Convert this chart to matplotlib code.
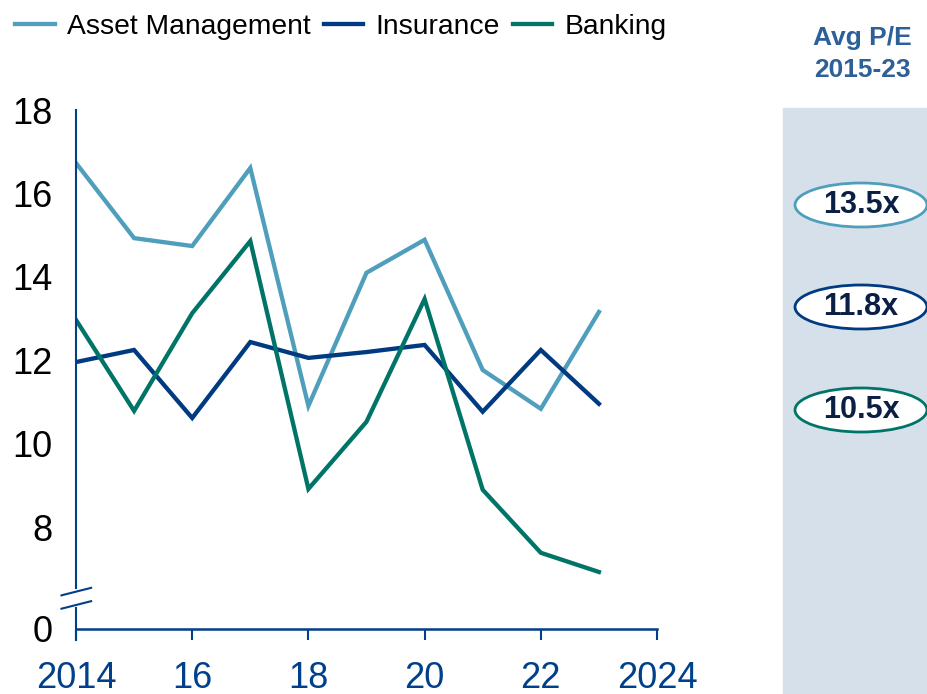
import numpy as np
import matplotlib.pyplot as plt
from matplotlib.patches import Ellipse, Rectangle

plt.rcParams['font.family'] = ['Liberation Sans', 'DejaVu Sans']

years = [2014, 2015, 2016, 2017, 2018, 2019, 2020, 2021, 2022, 2023]
asset_mgmt = [16.73, 14.93, 14.74, 16.61, 10.91, 14.10, 14.89, 11.77, 10.84, 13.16]
insurance = [11.96, 12.25, 10.62, 12.44, 12.06, 12.20, 12.37, 10.77, 12.25, 10.96]
banking = [12.97, 10.79, 13.13, 14.86, 8.92, 10.53, 13.47, 8.90, 7.39, 6.93]

series_names = ['Asset Management', 'Insurance', 'Banking']
colors = ['#4f9fbc', '#003a80', '#007467']
avg_pe = ['13.5x', '11.8x', '10.5x']

xticks = [2014, 2016, 2018, 2020, 2022, 2024]
xtick_labels = ['2014', '16', '18', '20', '22', '2024']
yticks = [8, 10, 12, 14, 16, 18]

axis_blue = '#003f8a'
y_bottom = 5.57   # where the "0" sits (broken axis)

fig = plt.figure(figsize=(9.27, 6.94), dpi=100)
ax = fig.add_axes([76 / 927, 1 - 640 / 694, (657 - 76) / 927, (640 - 110) / 694])

for vals, name, c in zip([asset_mgmt, insurance, banking], series_names, colors):
    ax.plot(years, vals, color=c, lw=3.1, label=name, solid_joinstyle='miter')

ax.set_xlim(2014, 2024)
ax.set_ylim(5.30, 18)

for s in ['top', 'right', 'left']:
    ax.spines[s].set_visible(False)
ax.spines['bottom'].set_position(('data', y_bottom))
ax.spines['bottom'].set_color(axis_blue)
ax.spines['bottom'].set_linewidth(1.8)

ax.set_xticks(xticks)
ax.set_xticklabels(xtick_labels, fontsize=26, color=axis_blue)
ax.tick_params(axis='x', direction='out', length=8, width=1.5, color=axis_blue, pad=15)

ax.set_yticks([y_bottom] + yticks)
ax.set_yticklabels(['0'] + [str(v) for v in yticks], fontsize=26, color='black')
ax.tick_params(axis='y', length=0, pad=17)

# left axis drawn in two pieces with a break
brk_lo, brk_hi = 6.14, 6.46
ax.plot([2014, 2014], [brk_hi + 0.08, 18], color=axis_blue, lw=1.5, clip_on=False)
ax.plot([2014, 2014], [5.30, brk_lo - 0.08], color=axis_blue, lw=1.5, clip_on=False)
for yb in [brk_lo, brk_hi]:
    ax.plot([2013.75, 2014.26], [yb - 0.09, yb + 0.09], color=axis_blue, lw=1.5, clip_on=False)

fig.legend(loc='upper left', bbox_to_anchor=(-0.011, 1.017), ncol=3, frameon=False,
           fontsize=20.3, handlelength=1.4, handletextpad=0.45, columnspacing=0.45)

# right side panel
fig.patches.append(Rectangle((783 / 927, 0), 1 - 783 / 927, 1 - 108 / 694,
                             transform=fig.transFigure, color='#d6e0ea', zorder=0))
fig.text(862 / 927, 1 - 54 / 694, 'Avg P/E\n2015-23', ha='center', va='center',
         fontsize=19, fontweight='bold', color='#2d5f98', linespacing=1.4)

centers_y = [205, 307, 410]
for label, c, cy in zip(avg_pe, colors, centers_y):
    e = Ellipse((861 / 927, 1 - cy / 694), 132 / 927, 44 / 694, transform=fig.transFigure,
                facecolor='white', edgecolor=c, lw=2)
    fig.patches.append(e)
    fig.text(861 / 927, 1 - cy / 694, label, ha='center', va='center',
             fontsize=22, fontweight='bold', color='#0b1f45')

plt.savefig('out.png', dpi=100)
